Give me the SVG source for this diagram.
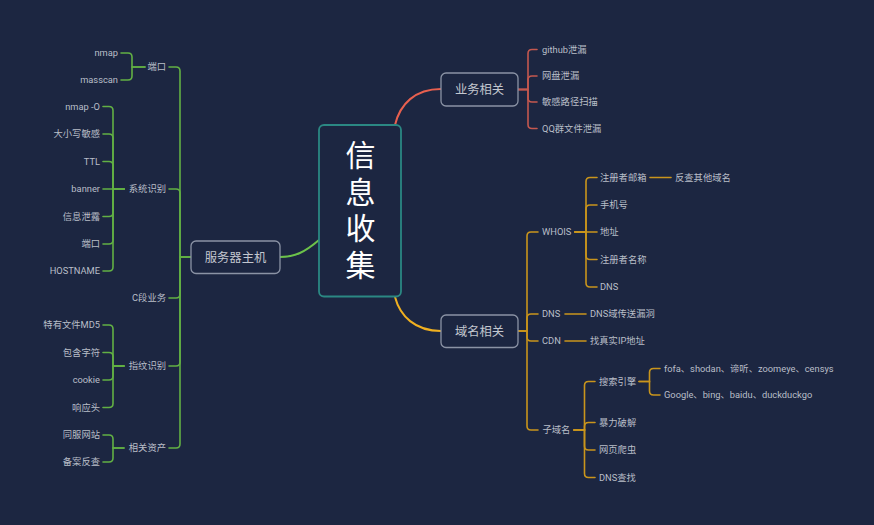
<svg xmlns="http://www.w3.org/2000/svg" width="874" height="525" viewBox="0 0 874 525">
<style>
.bg{fill:#1c2641}
.c{fill:none;stroke-width:1.6;stroke-linecap:round}
.g{stroke:#62b044}
.gm{stroke:#6cc24a;stroke-width:2}
.r{stroke:#c4584f}
.rm{stroke:#e8604f;stroke-width:2}
.o{stroke:#c9951c}
.om{stroke:#f0b020;stroke-width:2}
.node{fill:#1c2641;stroke:#8b93a5;stroke-width:1.3}
.center{fill:#1c2641;stroke:#2b8883;stroke-width:1.8}
text{font-family:Roboto,"Noto Sans CJK SC",sans-serif}
.t{font-size:9.3px;fill:#b9bec8}
.tl{text-anchor:end}
.m{font-size:12.3px;fill:#c3c7cf;text-anchor:middle}
.ct{font-size:30px;fill:#ffffff;text-anchor:middle}
</style>
<rect class="bg" x="0" y="0" width="874" height="525"/>

<g id="connectors">
  <!-- main curves -->
  <path class="c gm" d="M319,240 C305,252 295,257 280,257"/>
  <path class="c rm" d="M395,125 C400,104 415,89 441,89"/>
  <path class="c om" d="M395,297 C400,316 415,331 441,331"/>

  <!-- 服务器主机 children -->
  <path class="c g" d="M191,257 H180 V71 Q180,67 176,67 H169"/>
  <path class="c g" d="M191,257 H180 V193 Q180,189 176,189 H169"/>
  <path class="c g" d="M191,257 H180 V294 Q180,298 176,298 H169"/>
  <path class="c g" d="M191,257 H180 V362 Q180,366 176,366 H169"/>
  <path class="c g" d="M191,257 H180 V444 Q180,448 176,448 H169"/>

  <!-- 端口 children -->
  <path class="c g" d="M145,67 H132 V57 Q132,53 128,53 H121"/>
  <path class="c g" d="M145,67 H132 V76 Q132,80 128,80 H121"/>

  <!-- 系统识别 children -->
  <path class="c g" d="M124,189 H113 V110.5 Q113,106.5 109,106.5 H103"/>
  <path class="c g" d="M124,189 H113 V138 Q113,134 109,134 H103"/>
  <path class="c g" d="M124,189 H113 V165.5 Q113,161.5 109,161.5 H103"/>
  <path class="c g" d="M124,189 H103"/>
  <path class="c g" d="M124,189 H113 V212.5 Q113,216.5 109,216.5 H103"/>
  <path class="c g" d="M124,189 H113 V240 Q113,244 109,244 H103"/>
  <path class="c g" d="M124,189 H113 V267 Q113,271 109,271 H103"/>

  <!-- 指纹识别 children -->
  <path class="c g" d="M124,366 H113 V329 Q113,325 109,325 H103"/>
  <path class="c g" d="M124,366 H113 V356.5 Q113,352.5 109,352.5 H103"/>
  <path class="c g" d="M124,366 H113 V376 Q113,380 109,380 H103"/>
  <path class="c g" d="M124,366 H113 V403.5 Q113,407.5 109,407.5 H103"/>

  <!-- 相关资产 children -->
  <path class="c g" d="M124,448 H113 V439 Q113,435 109,435 H103"/>
  <path class="c g" d="M124,448 H113 V458 Q113,462 109,462 H103"/>

  <!-- 业务相关 children -->
  <path class="c r" d="M518,89.5 H528 V53.5 Q528,49.5 532,49.5 H537"/>
  <path class="c r" d="M518,89.5 H528 V80 Q528,76 532,76 H537"/>
  <path class="c r" d="M518,89.5 H528 V98 Q528,102 532,102 H537"/>
  <path class="c r" d="M518,89.5 H528 V124.5 Q528,128.5 532,128.5 H537"/>

  <!-- 域名相关 children -->
  <path class="c o" d="M518,331 H527 V236 Q527,232 531,232 H538"/>
  <path class="c o" d="M518,331 H527 V318 Q527,314 531,314 H538"/>
  <path class="c o" d="M518,331 H527 V337 Q527,341 531,341 H538"/>
  <path class="c o" d="M518,331 H527 V426 Q527,430 531,430 H538"/>

  <!-- WHOIS children -->
  <path class="c o" d="M575,232 H586 V181.5 Q586,177.5 590,177.5 H597"/>
  <path class="c o" d="M575,232 H586 V209 Q586,205 590,205 H597"/>
  <path class="c o" d="M575,232 H597"/>
  <path class="c o" d="M575,232 H586 V255.5 Q586,259.5 590,259.5 H597"/>
  <path class="c o" d="M575,232 H586 V283 Q586,287 590,287 H597"/>
  <path class="c o" d="M650,177.5 H671"/>

  <!-- DNS / CDN children -->
  <path class="c o" d="M565,314 H586"/>
  <path class="c o" d="M565,341 H586"/>

  <!-- 子域名 children -->
  <path class="c o" d="M574,430 H584.5 V385.5 Q584.5,381.5 588.5,381.5 H595"/>
  <path class="c o" d="M574,430 H584.5 V426.5 Q584.5,422.5 588.5,422.5 H595"/>
  <path class="c o" d="M574,430 H584.5 V446 Q584.5,450 588.5,450 H595"/>
  <path class="c o" d="M574,430 H584.5 V473.5 Q584.5,477.5 588.5,477.5 H595"/>

  <!-- 搜索引擎 children -->
  <path class="c o" d="M639,381.5 H649.5 V372.5 Q649.5,368.5 653.5,368.5 H660"/>
  <path class="c o" d="M639,381.5 H649.5 V391 Q649.5,395 653.5,395 H660"/>
</g>

<g id="center">
  <rect class="center" x="319" y="125" width="82" height="171.5" rx="5"/>
  <text class="ct" x="360.5" y="166">信</text>
  <text class="ct" x="360.5" y="203">息</text>
  <text class="ct" x="360.5" y="239">收</text>
  <text class="ct" x="360.5" y="276">集</text>
</g>

<g id="server">
  <rect class="node" x="191" y="241" width="89" height="32.5" rx="5"/>
  <text class="m" x="235.5" y="261.5">服务器主机</text>
</g>
<g id="business">
  <rect class="node" x="441" y="73" width="77" height="33" rx="5"/>
  <text class="m" x="479.5" y="94">业务相关</text>
</g>
<g id="domain">
  <rect class="node" x="441" y="315" width="77" height="32.5" rx="5"/>
  <text class="m" x="479.5" y="335.5">域名相关</text>
</g>

<g id="port"><text class="t tl" x="166" y="70.4">端口</text></g>
<g id="nmap"><text class="t tl" x="118" y="56.4">nmap</text></g>
<g id="masscan"><text class="t tl" x="118" y="83.4">masscan</text></g>

<g id="sysid"><text class="t tl" x="166" y="192.4">系统识别</text></g>
<g id="nmapO"><text class="t tl" x="100" y="109.9">nmap -O</text></g>
<g id="case"><text class="t tl" x="100" y="137.4">大小写敏感</text></g>
<g id="ttl"><text class="t tl" x="100" y="164.9">TTL</text></g>
<g id="banner"><text class="t tl" x="100" y="192.4">banner</text></g>
<g id="leak"><text class="t tl" x="100" y="219.9">信息泄露</text></g>
<g id="port2"><text class="t tl" x="100" y="247.4">端口</text></g>
<g id="hostname"><text class="t tl" x="100" y="274.4">HOSTNAME</text></g>

<g id="cseg"><text class="t tl" x="166" y="301.4">C段业务</text></g>

<g id="finger"><text class="t tl" x="166" y="369.4">指纹识别</text></g>
<g id="md5"><text class="t tl" x="100" y="328.4">特有文件MD5</text></g>
<g id="contains"><text class="t tl" x="100" y="355.9">包含字符</text></g>
<g id="cookie"><text class="t tl" x="100" y="383.4">cookie</text></g>
<g id="resp"><text class="t tl" x="100" y="410.9">响应头</text></g>

<g id="assets"><text class="t tl" x="166" y="451.4">相关资产</text></g>
<g id="samesite"><text class="t tl" x="100" y="438.4">同服网站</text></g>
<g id="icp"><text class="t tl" x="100" y="465.4">备案反查</text></g>

<g id="github"><text class="t" x="542" y="52.9">github泄漏</text></g>
<g id="netdisk"><text class="t" x="542" y="79.4">网盘泄漏</text></g>
<g id="path"><text class="t" x="542" y="105.4">敏感路径扫描</text></g>
<g id="qq"><text class="t" x="542" y="131.9">QQ群文件泄漏</text></g>

<g id="whois"><text class="t" x="542" y="235.4">WHOIS</text></g>
<g id="email"><text class="t" x="600" y="180.9">注册者邮箱</text></g>
<g id="reverse"><text class="t" x="675" y="180.9">反查其他域名</text></g>
<g id="phone"><text class="t" x="600" y="208.4">手机号</text></g>
<g id="addr"><text class="t" x="600" y="235.4">地址</text></g>
<g id="regname"><text class="t" x="600" y="262.9">注册者名称</text></g>
<g id="dns1"><text class="t" x="600" y="290.4">DNS</text></g>

<g id="dns"><text class="t" x="542" y="317.4">DNS</text></g>
<g id="axfr"><text class="t" x="590" y="317.4">DNS域传送漏洞</text></g>
<g id="cdn"><text class="t" x="542" y="344.4">CDN</text></g>
<g id="realip"><text class="t" x="590" y="344.4">找真实IP地址</text></g>

<g id="subdomain"><text class="t" x="542.5" y="433.4">子域名</text></g>
<g id="search"><text class="t" x="599" y="384.9">搜索引擎</text></g>
<g id="engines1"><text class="t" x="664" y="371.9">fofa、shodan、谛听、zoomeye、censys</text></g>
<g id="engines2"><text class="t" x="664" y="398.4">Google、bing、baidu、duckduckgo</text></g>
<g id="brute"><text class="t" x="599" y="425.9">暴力破解</text></g>
<g id="crawler"><text class="t" x="599" y="453.4">网页爬虫</text></g>
<g id="dnsfind"><text class="t" x="599" y="480.9">DNS查找</text></g>
</svg>
